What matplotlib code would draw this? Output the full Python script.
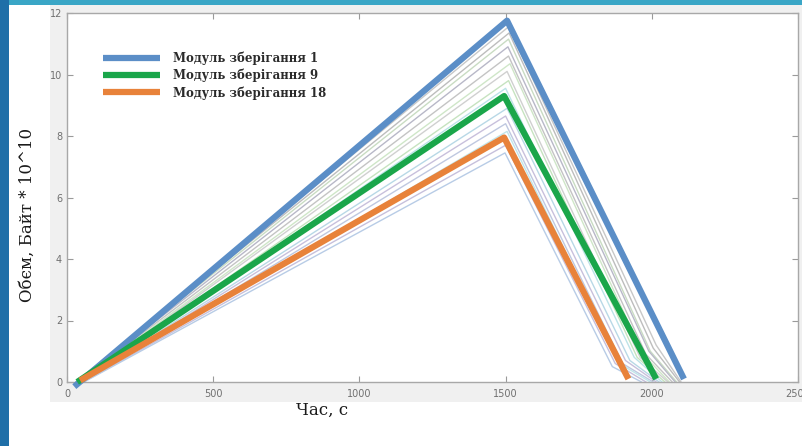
import matplotlib
matplotlib.use("Agg")
import matplotlib.pyplot as plt
from matplotlib.patches import Rectangle

# Main series: (time, volume) vertices
main_labels = ["Модуль зберігання 1", "Модуль зберігання 9", "Модуль зберігання 18"]
main_t = [[25, 1505, 2110], [35, 1495, 2015], [45, 1495, 1920]]
main_v = [[-0.15, 11.75, 0.1], [0.0, 9.3, 0.1], [0.05, 7.95, 0.1]]
main_colors = ["#5b8ec7", "#1aa64a", "#e8823a"]

# Background thin series
thin_peak = [11.55, 11.35, 11.15, 10.9, 10.6, 10.35, 10.1, 9.8, 9.55, 8.9, 8.65, 8.4, 8.15, 7.7, 7.45]
thin_peak_t = [1510, 1512, 1510, 1508, 1510, 1515, 1505, 1510, 1500, 1505, 1500, 1500, 1505, 1500, 1498]
thin_knee_t = [2015, 2005, 1995, 1990, 1980, 1970, 1960, 1950, 1940, 1925, 1910, 1900, 1890, 1875, 1865]
thin_knee_v = [1.2, 1.1, 1.0, 1.0, 0.9, 0.9, 0.8, 0.8, 0.8, 0.7, 0.7, 0.6, 0.6, 0.6, 0.5]
thin_end_t = [2100, 2095, 2085, 2080, 2070, 2060, 2055, 2045, 2035, 2025, 2015, 2005, 1995, 1980, 1965]
thin_colors = ["#c8c8c8", "#bdbdbd", "#c9dcc3", "#b8b8c8", "#c4c4c4", "#cfe6c8", "#d0d0d0",
               "#c6e3c0", "#bde3e8", "#b8d8e6", "#c8c0dc", "#bfc8e0", "#c0e6ea", "#c6c0dc", "#b8cce6"]

xticks = [0, 500, 1000, 1500, 2000, 2500]
yticks = [0, 2, 4, 6, 8, 10, 12]

fig = plt.figure(figsize=(8.03, 4.46), dpi=100)
fig.patch.set_facecolor("white")
W, H = 803, 446
# grey MATLAB figure panel
fig.patches.append(Rectangle((50 / W, 1 - 402 / H), (803 - 50) / W, (402 - 5) / H,
                             transform=fig.transFigure, facecolor="#f0f0f0", edgecolor="none", zorder=-2))
# teal slide borders
fig.patches.append(Rectangle((0, 1 - 5 / H), 1, 5 / H, transform=fig.transFigure,
                             facecolor="#3aa6c6", edgecolor="none", zorder=-1))
fig.patches.append(Rectangle((0, 0), 9 / W, 1, transform=fig.transFigure,
                             facecolor="#1f6fa8", edgecolor="none", zorder=-1))

ax = fig.add_axes([67 / W, 1 - 382 / H, (798 - 67) / W, (382 - 13) / H])
ax.set_zorder(3)
ax.set_facecolor("white")

for i in range(len(thin_peak)):
    ts = [30 + i * 2, thin_peak_t[i], thin_knee_t[i], thin_end_t[i]]
    vs = [0.0, thin_peak[i], thin_knee_v[i], 0.0]
    ax.plot(ts, vs, color=thin_colors[i], lw=1.0, zorder=2, solid_joinstyle="round")

lines = []
for t, v, c, lab in zip(main_t, main_v, main_colors, main_labels):
    ln, = ax.plot(t, v, color=c, lw=4.5, label=lab, zorder=3, solid_capstyle="butt", clip_on=False)
    lines.append(ln)

ax.set_xlim(0, 2500)
ax.set_ylim(0, 12)
ax.set_xticks(xticks)
ax.set_yticks(yticks)
ax.set_xticklabels([str(x) for x in xticks])
ax.tick_params(direction="in", length=4, colors="#9a9a9a", labelcolor="#707070", labelsize=7,
               top=True, right=True, width=0.8)
ax.tick_params(axis="x", pad=5)
for s in ax.spines.values():
    s.set_color("#a8a8a8")
    s.set_linewidth(1.0)

leg = ax.legend(handles=lines, loc="upper left", bbox_to_anchor=(0.035, 0.925), frameon=False,
                prop={"family": "DejaVu Serif", "size": 8.5, "weight": "semibold"}, handlelength=4.8,
                labelspacing=0.33, handletextpad=1.1)
for t in leg.get_texts():
    t.set_color("#2a2a2a")

fig.text(322 / W, 1 - 410 / H, "Час, с", family="DejaVu Serif", fontsize=12,
         ha="center", va="center", color="#1a1a1a")
fig.text(27 / W, 1 - 215 / H, "Обєм, Байт * 10^10", family="DejaVu Serif", fontsize=12,
         ha="center", va="center", rotation=90, color="#1a1a1a")

fig.savefig("out.png", dpi=100, facecolor=fig.get_facecolor())
